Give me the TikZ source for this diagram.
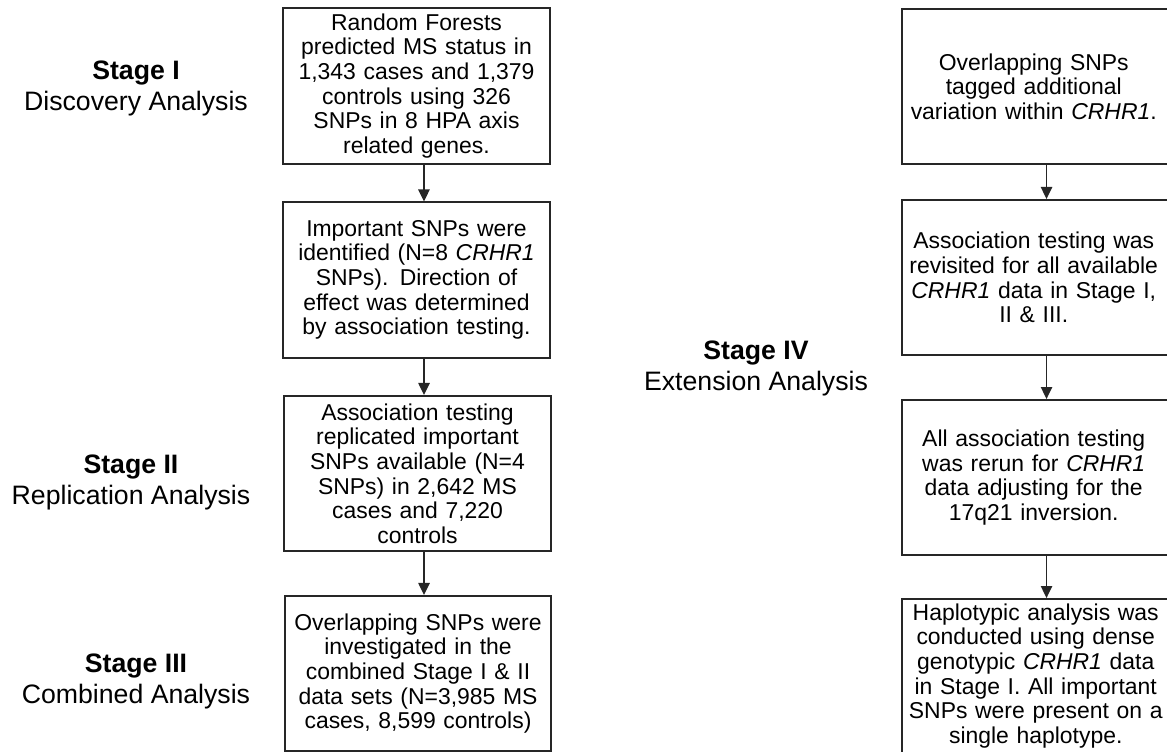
\documentclass[tikz,border=0pt]{standalone}
\usepackage{fontspec}
\setmainfont{Liberation Sans}
\usetikzlibrary{arrows.meta}

\begin{document}
\begin{tikzpicture}[x=0.75pt,y=-0.75pt,
    stagelabel/.style={align=center,font=\fontsize{20}{23.3}\selectfont},
    lbox/.style={draw=black!85,line width=1.3pt,minimum width=200pt,minimum height=116.5pt,
      inner sep=0pt,text width=196pt,align=center,font=\fontsize{17.2}{18.5}\selectfont},
    rbox/.style={draw=black!85,line width=1.3pt,minimum width=209pt,minimum height=116.5pt,
      inner sep=0pt,anchor=north west},
    rtext/.style={inner sep=0pt,text width=196pt,align=center,font=\fontsize{17.2}{18.5}\selectfont},
    arr/.style={draw=black!85,line width=1.25pt,-{Triangle[length=9pt,width=8.5pt]}}]
  \useasboundingbox (0,0) rectangle (1167,752);

  % stage labels
  \node[stagelabel] (st1) at (136,88) {\textbf{Stage I}\\Discovery Analysis};
  \node[stagelabel] (st2) at (131,482) {\textbf{Stage II}\\Replication Analysis};
  \node[stagelabel] (st3) at (136,681) {\textbf{Stage III}\\Combined Analysis};
  \node[stagelabel] (st4) at (756,368) {\textbf{Stage IV}\\Extension Analysis};

  % left column
  \node[lbox] (b1) at (416.5,86) {Random Forests\\predicted MS status in\\1,343 cases and 1,379\\controls using 326\\SNPs in 8 HPA axis\\related genes.};
  \node[lbox] (b2) at (416.5,280) {Important SNPs were\\identified (N=8 \textit{CRHR1}\\SNPs). Direction of\\effect was determined\\by association testing.};
  \node[lbox] (b3) at (417.5,473.5) {Association testing\\replicated important\\SNPs available (N=4\\SNPs) in 2,642 MS\\cases and 7,220\\controls};
  \node[lbox] (b4) at (418,673.5) {Overlapping SNPs were\\investigated in the\\combined Stage I \& II\\data sets (N=3,985 MS\\cases, 8,599 controls)};

  \draw[arr] ([xshift=5.6pt]b1.south) -- ([xshift=5.6pt]b2.north);
  \draw[arr] ([xshift=5.6pt]b2.south) -- ([xshift=4.9pt]b3.north);
  \draw[arr] ([xshift=4.9pt]b3.south) -- ([xshift=4.5pt]b4.north);

  % right column, boxes run off the right edge
  \node[rbox] (r1) at (901,8) {};
  \node[rbox] (r2) at (901,199) {};
  \node[rbox] (r3) at (901,399) {};
  \node[rbox,minimum height=130pt] (r4) at (901,598) {};

  \node[rtext] (r1t) at ([xshift=-5.6pt]r1.center) {Overlapping SNPs\\tagged additional\\variation within \textit{CRHR1}.};
  \node[rtext] (r2t) at ([xshift=-5.6pt]r2.center) {Association testing was\\revisited for all available\\\textit{CRHR1} data in Stage I,\\II \& III.};
  \node[rtext] (r3t) at ([xshift=-5.6pt]r3.center) {All association testing\\was rerun for \textit{CRHR1}\\data adjusting for the\\17q21 inversion.};
  \node[rtext] (r4t) at ([xshift=-4.1pt,yshift=7.3pt]r4.center) {Haplotypic analysis was\\conducted using dense\\genotypic \textit{CRHR1} data\\in Stage I. All important\\SNPs were present on a\\single haplotype.};

  \draw[arr] ([xshift=4pt]r1.south) -- ([xshift=4pt]r2.north);
  \draw[arr] ([xshift=4pt]r2.south) -- ([xshift=4pt]r3.north);
  \draw[arr] ([xshift=4pt]r3.south) -- ([xshift=4pt]r4.north);
\end{tikzpicture}
\end{document}
